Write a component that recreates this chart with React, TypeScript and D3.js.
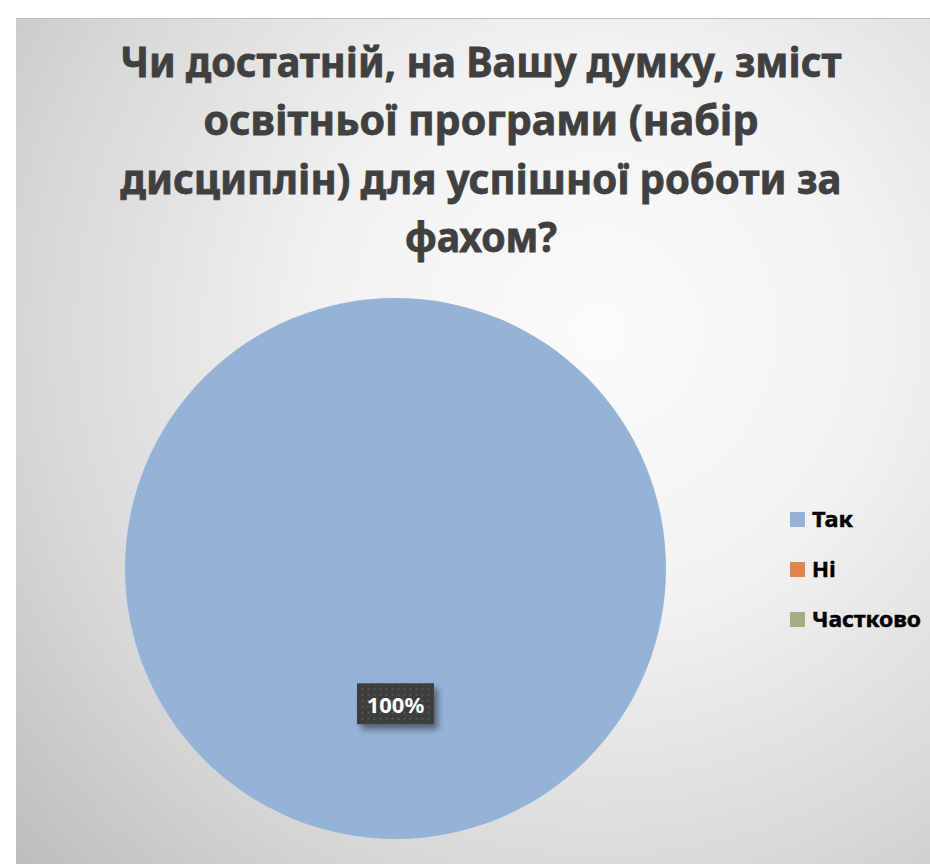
import React from "react";
import * as d3 from "d3";

const titleLines = [
  "Чи достатній, на Вашу думку, зміст",
  "освітньої програми (набір",
  "дисциплін) для успішної роботи за",
  "фахом?",
];
const titleWidths = [721, 555, 721, 152];
const categories = ["Так", "Ні", "Частково"];
const values = [100, 0, 0];
const colors = ["#95B3D7", "#E0844A", "#A5AD80"];

const W = 930;
const H = 864;
const FONT = "'Noto Sans', 'Open Sans', sans-serif";

export default function App() {
  const cx = 395.5;
  const cy = 568.5;
  const r = 270.5;
  const total = d3.sum(values);
  const pie = d3.pie<number>().value((d) => d).sort(null);
  const arcs = pie(values);
  const arc = d3.arc<d3.PieArcDatum<number>>().innerRadius(0).outerRadius(r);
  const fmt = (v: number) => `${Math.round((v / total) * 100)}%`;

  const titleY = d3.scaleLinear().domain([0, 1]).range([77, 135.3]);
  const legendY = d3.scaleLinear().domain([0, 1]).range([527, 577]);

  return (
    <div style={{ position: "fixed", left: 0, top: 0, width: W, height: H, background: "#fff" }}>
      <svg width={W} height={H} style={{ display: "block" }}>
        <defs>
          <radialGradient id="bg" gradientUnits="userSpaceOnUse" cx={600} cy={330} r={800}>
            <stop offset="0" stopColor="#fbfbfb" />
            <stop offset="0.35" stopColor="#f2f2f2" />
            <stop offset="0.7" stopColor="#d8d8d8" />
            <stop offset="1" stopColor="#bcbcbc" />
          </radialGradient>
          <pattern id="dots" width="6" height="6" patternUnits="userSpaceOnUse">
            <rect width="6" height="6" fill="#3d3d3d" />
            <rect x="2" y="2" width="2" height="2" fill="#555555" />
          </pattern>
          <filter id="shadow" x="-30%" y="-30%" width="160%" height="160%">
            <feGaussianBlur in="SourceAlpha" stdDeviation="3" />
            <feOffset dx="4" dy="5" result="b" />
            <feComponentTransfer>
              <feFuncA type="linear" slope="0.45" />
            </feComponentTransfer>
            <feMerge>
              <feMergeNode />
              <feMergeNode in="SourceGraphic" />
            </feMerge>
          </filter>
        </defs>
        <rect x={16} y={18} width={W - 16} height={H - 18} fill="url(#bg)" />
        <line x1={16} y1={18.5} x2={W} y2={18.5} stroke="#bdbdbd" strokeWidth={1} />

        {titleLines.map((t, i) => (
          <text
            key={i}
            x={481}
            y={titleY(i)}
            textAnchor="middle"
            fontFamily={FONT}
            fontWeight={700}
            fontSize={42}
            fill="#404040"
            stroke="#404040"
            strokeWidth={0.8}
            textLength={titleWidths[i]}
            lengthAdjust="spacingAndGlyphs"
          >
            {t}
          </text>
        ))}

        <g transform={`translate(${cx},${cy})`}>
          {arcs.map((a, i) =>
            a.endAngle - a.startAngle > 0 ? (
              <path key={i} d={arc(a) || ""} fill={colors[i]} />
            ) : null
          )}
          {arcs.map((a, i) => {
            if (a.endAngle - a.startAngle <= 0) return null;
            const [lx, ly] = arc.centroid(a);
            return (
              <g key={"l" + i} transform={`translate(${lx},${ly})`}>
                <rect x={-38.5} y={-20.5} width={77} height={41} fill="url(#dots)" filter="url(#shadow)" />
                <text
                  x={0}
                  y={9}
                  textAnchor="middle"
                  fontFamily={FONT}
                  fontWeight={700}
                  fontSize={22}
                  fill="#ffffff"
                >
                  {fmt(a.data)}
                </text>
              </g>
            );
          })}
        </g>

        {categories.map((c, i) => (
          <g key={c}>
            <rect x={790} y={legendY(i) - 15} width={15} height={15} fill={colors[i]} />
            <text
              x={812}
              y={legendY(i)}
              fontFamily={FONT}
              fontWeight={700}
              fontSize={22}
              fill="#000000"
              stroke="#000000"
              strokeWidth={0.5}
              textLength={c === "Частково" ? 109 : c === "Так" ? 41 : undefined}
              lengthAdjust="spacingAndGlyphs"
            >
              {c}
            </text>
          </g>
        ))}
      </svg>
    </div>
  );
}
